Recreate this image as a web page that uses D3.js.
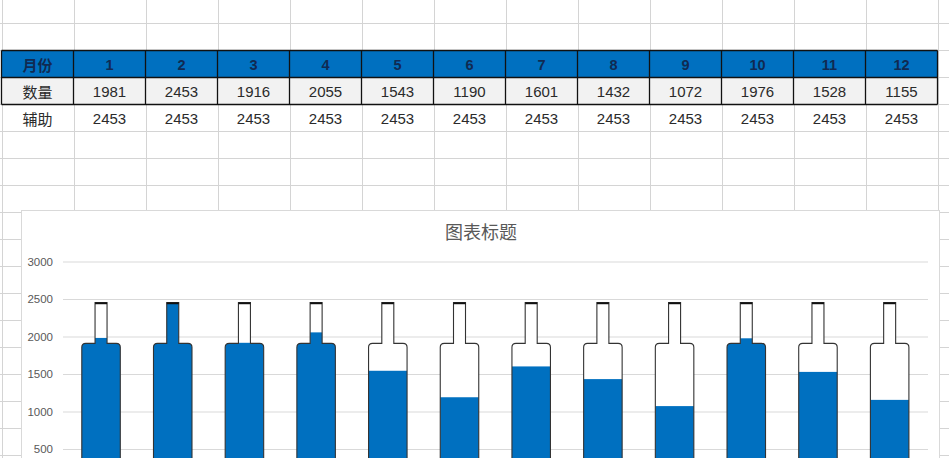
<!DOCTYPE html>
<html>
<head>
<meta charset="UTF-8">
<title>Bottle chart</title>
<script src="https://cdn.jsdelivr.net/npm/d3@7"></script>
<style>
body { margin: 0; background: white; }
svg { display: block; }
</style>
</head>
<body>
<script type="text/javascript">
// table + chart data
var months = ["1","2","3","4","5","6","7","8","9","10","11","12"]
var qty = [1981, 2453, 1916, 2055, 1543, 1190, 1601, 1432, 1072, 1976, 1528, 1155]
var helper = [2453, 2453, 2453, 2453, 2453, 2453, 2453, 2453, 2453, 2453, 2453, 2453]
var yTicks = [0, 500, 1000, 1500, 2000, 2500, 3000]
var rowLabels = ["月份", "数量", "辅助"]
var chartTitle = "图表标题"

var W = 949, H = 458
var svg = d3.select("body").append("svg")
  .attr("width", W).attr("height", H)

// ---- spreadsheet grid ----
var col = d3.scaleBand().domain(["lbl"].concat(months)).range([1.5, 937.5])
var rowH = 27, row0 = -3.7
var grid = svg.append("g").attr("stroke", "#d4d4d4").attr("stroke-width", 1)
d3.range(0, 19).forEach(function(i) {
  var y = Math.round(row0 + rowH * i) + 0.5
  grid.append("line").attr("x1", 0).attr("x2", W).attr("y1", y).attr("y2", y)
})
d3.range(0, 14).forEach(function(i) {
  var x = Math.round(1.5 + 72 * i) + 0.5
  grid.append("line").attr("x1", x).attr("x2", x).attr("y1", 0).attr("y2", H)
})

var rTop = [50.5, 77.5, 104.5]
// header row
svg.append("rect").attr("x", col("lbl")).attr("y", rTop[0])
  .attr("width", col.bandwidth() * 13).attr("height", rowH)
  .attr("fill", "#0070c0")
svg.append("rect").attr("x", col("lbl")).attr("y", rTop[1])
  .attr("width", col.bandwidth() * 13).attr("height", rowH)
  .attr("fill", "#f2f2f2")

var bord = svg.append("g").attr("stroke", "#111").attr("stroke-width", 1.3)
;[rTop[0], rTop[1], rTop[2]].forEach(function(y) {
  bord.append("line").attr("x1", 1.5).attr("x2", 937.5).attr("y1", y).attr("y2", y)
})
d3.range(0, 14).forEach(function(i) {
  var x = 1.5 + 72 * i
  bord.append("line").attr("x1", x).attr("x2", x).attr("y1", rTop[0]).attr("y2", rTop[2])
})

function cellText(key, r, txt, opts) {
  svg.append("text")
    .attr("x", col(key) + col.bandwidth() / 2)
    .attr("y", rTop[0] + rowH * r + rowH / 2 + 2.5)
    .attr("text-anchor", "middle")
    .attr("dominant-baseline", "middle")
    .attr("font-family", opts.cjk ? "'Noto Sans CJK SC'" : "'Liberation Sans', Arial")
    .attr("font-size", opts.size || 14)
    .attr("font-weight", opts.bold ? "bold" : "normal")
    .attr("fill", opts.color || "#2a2a2a")
    .text(txt)
}
rowLabels.forEach(function(t, r) {
  cellText("lbl", r, t, {cjk: true, size: 15, bold: r == 0, color: r == 0 ? "#102a52" : "#2a2a2a"})
})
months.forEach(function(m, i) {
  cellText(m, 0, m, {size: 14.5, bold: true, color: "#102a52"})
  cellText(m, 1, qty[i], {size: 15})
  cellText(m, 2, helper[i], {size: 15})
})

// ---- chart ----
svg.append("rect").attr("x", 21.5).attr("y", 210.5)
  .attr("width", 918).attr("height", 300)
  .attr("fill", "white").attr("stroke", "#d9d9d9")

svg.append("text").attr("x", 481).attr("y", 239)
  .attr("text-anchor", "middle")
  .attr("font-family", "'Noto Sans CJK SC'")
  .attr("font-size", 18).attr("fill", "#595959")
  .text(chartTitle)

var x = d3.scaleBand().domain(months).range([65.2, 925.5])
var y = d3.scaleLinear().domain([0, 3000]).range([486.5, 261.5])

var yAxis = svg.append("g").attr("transform", "translate(63,0)")
  .call(d3.axisLeft(y).tickValues(yTicks).tickFormat(d3.format("d")).tickSize(-865).tickPadding(10))
yAxis.select(".domain").remove()
yAxis.selectAll(".tick line").attr("stroke", "#d9d9d9")
yAxis.selectAll(".tick text").attr("fill", "#595959")
  .attr("font-family", "'Liberation Sans', Arial").attr("font-size", 11.5)

var bodyW = 38.5, neckW = 12, rad = 4, shoulder = 0.778
function bottle(i) {
  var cx = x(months[i]) + x.bandwidth() / 2
  var bw = bodyW / 2, nw = neckW / 2
  var yt = y(helper[i]), ys = y(helper[i] * shoulder), yb = y(0)
  return "M" + (cx - nw) + "," + yt + "L" + (cx - nw) + "," + ys +
    "L" + (cx - bw + rad) + "," + ys + "Q" + (cx - bw) + "," + ys + " " + (cx - bw) + "," + (ys + rad) +
    "L" + (cx - bw) + "," + yb + "L" + (cx + bw) + "," + yb +
    "L" + (cx + bw) + "," + (ys + rad) + "Q" + (cx + bw) + "," + ys + " " + (cx + bw - rad) + "," + ys +
    "L" + (cx + nw) + "," + ys + "L" + (cx + nw) + "," + yt + "Z"
}

var defs = svg.append("defs")
months.forEach(function(m, i) {
  defs.append("clipPath").attr("id", "clip" + i).append("path").attr("d", bottle(i))
})

var bottles = svg.append("g").selectAll("g").data(months).enter().append("g")
bottles.append("path").attr("d", function(d, i) { return bottle(i) }).attr("fill", "white")
bottles.append("rect")
  .attr("clip-path", function(d, i) { return "url(#clip" + i + ")" })
  .attr("x", function(d) { return x(d) + x.bandwidth() / 2 - bodyW / 2 - 1 })
  .attr("width", bodyW + 2)
  .attr("y", function(d, i) { return y(qty[i]) })
  .attr("height", function(d, i) { return y(0) - y(qty[i]) })
  .attr("fill", "#0070c0")
bottles.append("path").attr("d", function(d, i) { return bottle(i) })
  .attr("fill", "none").attr("stroke", "#333").attr("stroke-width", 1.1)
bottles.append("line")
  .attr("x1", function(d) { return x(d) + x.bandwidth() / 2 - neckW / 2 })
  .attr("x2", function(d) { return x(d) + x.bandwidth() / 2 + neckW / 2 })
  .attr("y1", function(d, i) { return y(helper[i]) + 0.8 })
  .attr("y2", function(d, i) { return y(helper[i]) + 0.8 })
  .attr("stroke", "#111").attr("stroke-width", 1.8)
</script>
</body>
</html>
